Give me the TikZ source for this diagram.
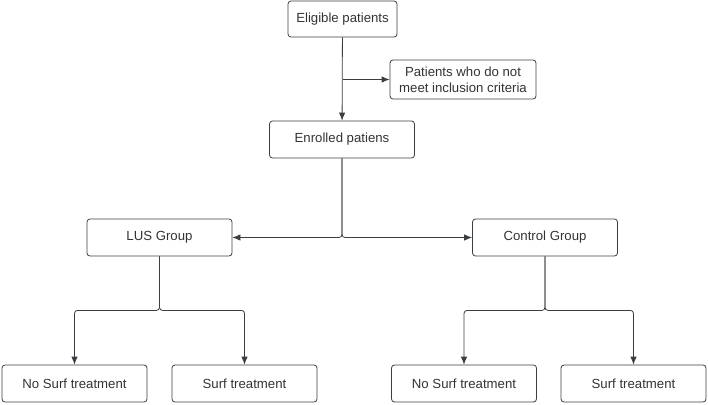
\documentclass[tikz,border=0pt]{standalone}
\usepackage{fontspec}
\setmainfont{Liberation Sans}
\usepackage{xcolor}
\usetikzlibrary{arrows.meta}

\definecolor{linegray}{HTML}{3A3D42}
\definecolor{textgray}{HTML}{333333}

\tikzset{
  box/.style={draw=linegray, line width=0.8pt, rounded corners=3pt,
    minimum width=145pt, minimum height=37pt, align=center, inner sep=2pt,
    text=textgray, font=\fontsize{13.2}{16}\selectfont},
  link/.style={draw=linegray, line width=0.8pt, rounded corners=3pt,
    -{Latex[length=8pt,width=6.5pt]}}
}

\begin{document}
\begin{tikzpicture}[x=1pt,y=-1pt]
  \useasboundingbox (0,0) rectangle (708,404);
  \node[box, minimum width=109pt, minimum height=36pt] (elig) at (342.5,19) {Eligible patients};
  \node[box, minimum width=146pt, minimum height=39pt] (excl) at (463,79.5) {Patients who do not\\meet inclusion criteria};
  \node[box] (enr) at (342,139.5) {Enrolled patiens};
  \node[box] (lus) at (159.5,237.5) {LUS Group};
  \node[box] (ctrl) at (545,237.5) {Control Group};
  \foreach \name/\x/\txt in {lnos/74.5/No Surf treatment, lsurf/244.5/Surf treatment,
                             cnos/464/No Surf treatment, csurf/633.5/Surf treatment} {
    \node[box] (\name) at (\x,383.5) {\txt};
  }
  \draw[link] (elig) -- (enr);
  \draw[link] (elig.south |- excl) -- (excl);
  \draw[link] (enr.south) |- (lus.east);
  \draw[link] (enr.south) |- (ctrl.west);
  \foreach \grp/\a/\b in {lus/lnos/lsurf, ctrl/cnos/csurf} {
    \draw[link] (\grp.south) -- ++(0,54) -| (\a.north);
    \draw[link] (\grp.south) -- ++(0,54) -| (\b.north);
  }
\end{tikzpicture}
\end{document}
